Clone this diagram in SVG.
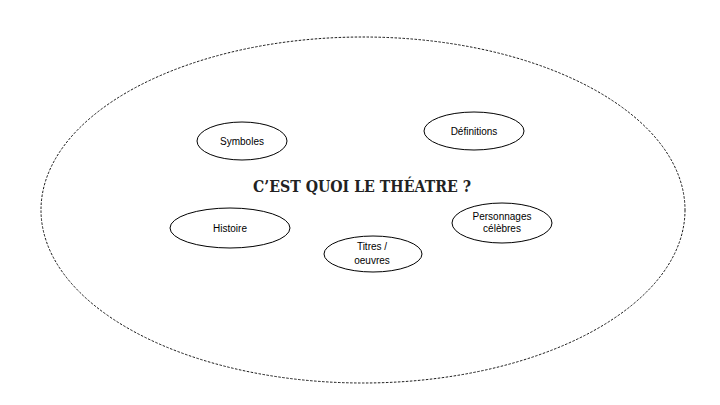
<svg xmlns="http://www.w3.org/2000/svg" width="720" height="405" viewBox="0 0 720 405">
<style>
.n{fill:#fff;stroke:#000;stroke-width:1}
.t{font-family:"Liberation Sans","Open Sans",sans-serif;font-size:10px;fill:#000;text-anchor:middle}
.h{font-family:"DejaVu Serif","Liberation Serif",serif;font-weight:bold;font-size:17px;fill:#222;text-anchor:middle}
</style>
<rect width="720" height="405" fill="#fff"/>
<g id="outer">
<ellipse cx="363" cy="210" rx="322" ry="173" fill="none" stroke="#000" stroke-width="0.9" stroke-dasharray="2.5,1.5"/>
</g>
<g id="title">
<text class="h" x="362" y="192" textLength="218" lengthAdjust="spacingAndGlyphs">C’EST QUOI LE THÉATRE ?</text>
</g>
<g id="connectors"></g>
<g id="symboles">
<ellipse class="n" cx="242" cy="141" rx="45" ry="19"/>
<text class="t" x="242" y="145">Symboles</text>
</g>
<g id="definitions">
<ellipse class="n" cx="474" cy="131" rx="50" ry="19"/>
<text class="t" x="474" y="135">Définitions</text>
</g>
<g id="histoire">
<ellipse class="n" cx="230" cy="228" rx="60" ry="20"/>
<text class="t" x="230" y="232">Histoire</text>
</g>
<g id="personnages">
<ellipse class="n" cx="502" cy="223" rx="50" ry="20"/>
<text class="t" x="502" y="220">Personnages</text>
<text class="t" x="502" y="232">célèbres</text>
</g>
<g id="titres">
<ellipse class="n" cx="373" cy="254" rx="49" ry="18"/>
<text class="t" x="372" y="250">Titres /</text>
<text class="t" x="372" y="264">oeuvres</text>
</g>
</svg>
